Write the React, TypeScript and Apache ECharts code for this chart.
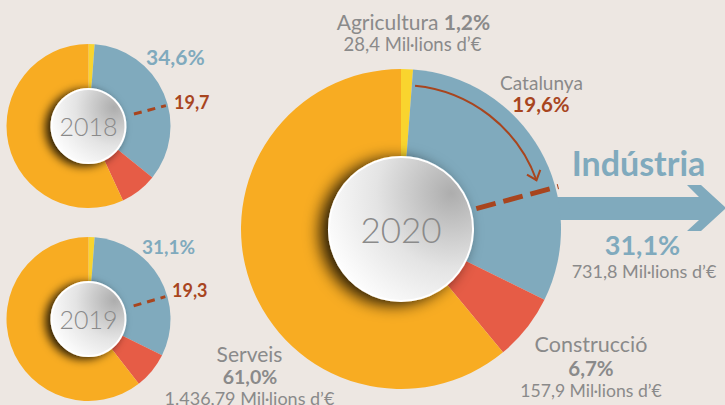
import React, { useEffect, useRef } from "react";
import * as echarts from "echarts";

const sectors = ["Agricultura", "Indústria", "Construcció", "Serveis"];
const colors = ["#f9d42e", "#80aabd", "#e65c46", "#f8ac22"];
const years = ["2018", "2019", "2020"];
const share2018 = [1.2, 34.6, 7.3, 56.9];
const share2019 = [1.2, 31.1, 7.2, 60.5];
const share2020 = [1.2, 31.1, 6.7, 61.0];
const catalunyaIndustry = [19.7, 19.3, 19.6];
const millions2020 = [28.4, 731.8, 157.9, 1436.79];

const BG = "#ede7e2";
const GREY = "#8a8a8a";
const BLUE = "#80aabd";
const BROWN = "#a8451e";
const FONT = "Lato, 'Open Sans', sans-serif";

function fmtNum(v: number): string {
  const s = String(v);
  const dec = s.includes(".") ? s.split(".")[1].length : 0;
  const [i, d] = v.toFixed(dec).split(".");
  const ig = i.replace(/\B(?=(\d{3})+(?!\d))/g, ".");
  return d ? ig + "," + d : ig;
}
function fmtPct(v: number): string {
  return v.toFixed(1).replace(".", ",") + "%";
}
function fmtVal(v: number): string {
  return v.toFixed(1).replace(".", ",");
}

type PieGeom = { cx: number; cy: number; r: number; rd: number; fs: number };
const geoms: PieGeom[] = [
  { cx: 88.5, cy: 126, r: 82, rd: 37, fs: 25 },
  { cx: 88.5, cy: 319, r: 82, rd: 37, fs: 25 },
  { cx: 401, cy: 229, r: 160, rd: 72, fs: 35 },
];
const shares = [share2018, share2019, share2020];

function polar(g: PieGeom, pct: number, rr: number): [number, number] {
  const a = (pct / 100) * Math.PI * 2;
  return [g.cx + rr * Math.sin(a), g.cy - rr * Math.cos(a)];
}

export default function App() {
  const ref = useRef<HTMLDivElement>(null);
  useEffect(() => {
    document.body.style.margin = "0";
    document.body.style.background = BG;
    const chart = echarts.init(ref.current!, undefined, { renderer: "svg" });
    const series: any[] = [];
    geoms.forEach((g, k) => {
      const big = k === 2;
      series.push({
        type: "pie",
        center: [g.cx, g.cy],
        radius: [0, g.r],
        startAngle: 90,
        clockwise: true,
        silent: true,
        z: 2,
        label: { show: false },
        labelLine: { show: false },
        itemStyle: { borderWidth: 0 },
        emphasis: { disabled: true },
        data: sectors.map((n, i) => ({
          name: n,
          value: shares[k][i],
          itemStyle: { color: colors[i] },
        })),
      });
      series.push({
        type: "pie",
        center: [g.cx, g.cy],
        radius: [0, g.rd],
        silent: true,
        z: 3,
        emphasis: { disabled: true },
        labelLine: { show: false },
        label: {
          show: true,
          position: "center",
          formatter: years[k],
          fontSize: g.fs,
          fontFamily: FONT,
          fontWeight: 300,
          color: GREY,
        },
        itemStyle: {
          color: {
            type: "radial",
            x: 0.85,
            y: 0.25,
            r: 0.95,
            colorStops: [
              { offset: 0, color: "#adadad" },
              { offset: 0.55, color: "#e4e4e4" },
              { offset: 1, color: "#ffffff" },
            ],
          },
          borderColor: "#ffffff",
          borderWidth: 2,
          shadowBlur: big ? 16 : 10,
          shadowColor: "rgba(0,0,0,0.85)",
          shadowOffsetX: big ? -8 : -5,
          shadowOffsetY: big ? 3 : 2,
        },
        data: [{ name: years[k], value: 1 }],
      });
    });

    const graphics: any[] = [];
    // big arrow
    graphics.push({
      type: "polygon",
      z: 0,
      shape: {
        points: [
          [540, 197],
          [699, 197],
          [687, 185],
          [701, 185],
          [726, 208],
          [701, 231],
          [687, 231],
          [699, 220],
          [540, 220],
        ],
      },
      style: { fill: BLUE },
    });
    // dashed Catalunya lines
    geoms.forEach((g, k) => {
      const pct = shares[k][0] + catalunyaIndustry[k];
      const big = k === 2;
      const [x1, y1] = polar(g, pct, big ? 72 : 45);
      const [x2, y2] = polar(g, pct, big ? 163 : 80);
      graphics.push({
        type: "line",
        z: 100,
        shape: { x1, y1, x2, y2 },
        style: {
          stroke: BROWN,
          lineWidth: big ? 5 : 3,
          lineDash: big ? [20, 8] : [8, 6],
          lineDashOffset: big ? -6 : -2,
        },
      });
    });
    // curved arrow on 2020
    {
      const g = geoms[2];
      const a0 = (5.6 / 360) * Math.PI * 2 - Math.PI / 2;
      const a1 = (70.2 / 360) * Math.PI * 2 - Math.PI / 2;
      const rr = 144;
      graphics.push({
        type: "arc",
        z: 100,
        shape: { cx: g.cx, cy: g.cy, r: rr, startAngle: a0, endAngle: a1, clockwise: true },
        style: { stroke: BROWN, lineWidth: 2, fill: "none" },
      });
      const tx = g.cx + rr * Math.cos(a1);
      const ty = g.cy + rr * Math.sin(a1);
      const dir = a1 + Math.PI / 2;
      const back = dir + Math.PI;
      const L = 11;
      const arm = (off: number): [number, number] => [
        tx + L * Math.cos(back + off),
        ty + L * Math.sin(back + off),
      ];
      graphics.push({
        type: "polyline",
        z: 100,
        shape: { points: [arm(0.7), [tx, ty], arm(-0.7)] },
        style: { stroke: BROWN, lineWidth: 2, fill: "none" },
      });
    }

    const txt = (
      text: string,
      x: number,
      y: number,
      fontSize: number,
      fill: string,
      bold = false,
      align = "center"
    ) => ({
      type: "text",
      z: 100,
      style: {
        text,
        x,
        y,
        fill,
        fontSize,
        fontFamily: FONT,
        fontWeight: bold ? "bold" : "normal",
        align,
        textAlign: align,
        verticalAlign: "middle",
        textVerticalAlign: "middle",
      },
    });

    graphics.push({
      type: "text",
      z: 100,
      style: {
        text: `{a|${sectors[0]} }{b|${fmtPct(share2020[0])}}`,
        x: 413.5,
        y: 21,
        align: "center",
        textAlign: "center",
        verticalAlign: "middle",
        textVerticalAlign: "middle",
        rich: {
          a: { fontSize: 21, fontFamily: FONT, fill: GREY, color: GREY },
          b: { fontSize: 21, fontFamily: FONT, fontWeight: "bold", fill: GREY, color: GREY },
        },
      },
    });
    graphics.push(txt(`${fmtNum(millions2020[0])} Mil·lions d’€`, 412.5, 44, 18.5, GREY));
    graphics.push(txt("Catalunya", 541.5, 82, 19, GREY));
    graphics.push(txt(fmtPct(catalunyaIndustry[2]), 541, 103.5, 20.5, BROWN, true));
    graphics.push(txt(sectors[1], 638.5, 162.5, 34, BLUE, true));
    graphics.push(txt(fmtPct(share2020[1]), 642.5, 244, 27, BLUE, true));
    graphics.push(txt(`${fmtNum(millions2020[1])} Mil·lions d’€`, 644, 271, 18, GREY));
    graphics.push(txt(sectors[3], 249.5, 353.5, 21, GREY));
    graphics.push(txt(fmtPct(share2020[3]), 250, 376, 19.5, GREY, true));
    graphics.push(txt(`${fmtNum(millions2020[3])} Mil·lions d’€`, 249.5, 398, 18, GREY));
    graphics.push(txt(sectors[2], 591, 344, 21.5, GREY));
    graphics.push(txt(fmtPct(share2020[2]), 591, 368, 20.5, GREY, true));
    graphics.push(txt(`${fmtNum(millions2020[2])} Mil·lions d’€`, 591, 390.5, 17.6, GREY));
    graphics.push(txt(fmtPct(share2018[1]), 146, 56, 21, BLUE, true, "left"));
    graphics.push(txt(fmtVal(catalunyaIndustry[0]), 174, 102, 18, BROWN, true, "left"));
    graphics.push(txt(fmtPct(share2019[1]), 142, 246, 19, BLUE, true, "left"));
    graphics.push(txt(fmtVal(catalunyaIndustry[1]), 172, 290, 18, BROWN, true, "left"));

    chart.setOption({
      animation: false,
      backgroundColor: BG,
      series,
      graphic: { elements: graphics },
    });
    return () => chart.dispose();
  }, []);
  return (
    <div
      ref={ref}
      style={{ position: "absolute", left: 0, top: 0, width: 725, height: 405, background: BG }}
    />
  );
}
